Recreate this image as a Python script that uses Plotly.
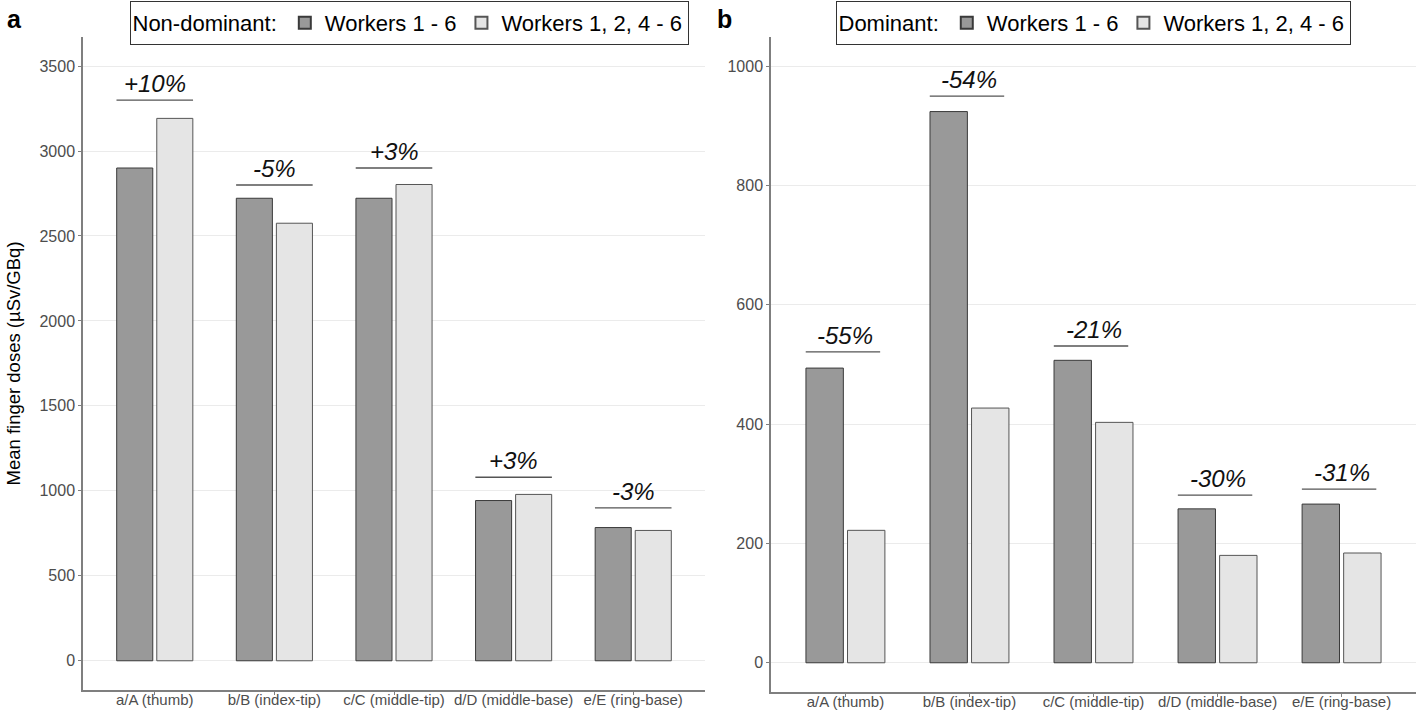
import plotly.graph_objects as go

categories = ["a/A (thumb)", "b/B (index-tip)", "c/C (middle-tip)", "d/D (middle-base)", "e/E (ring-base)"]
series_names = ["Workers 1 - 6", "Workers 1, 2, 4 - 6"]

nondom_all = [2900, 2722, 2722, 943, 784]
nondom_sub = [3192, 2575, 2803, 979, 767]
nondom_pct = ["+10%", "-5%", "+3%", "+3%", "-3%"]
nondom_bracket = [3300, 2800, 2900, 1080, 900]

dom_all = [494, 924, 507, 258, 266]
dom_sub = [222, 427, 403, 180, 184]
dom_pct = ["-55%", "-54%", "-21%", "-30%", "-31%"]
dom_bracket = [521, 950, 531, 281, 291]

FONT = "Liberation Sans, Arial, sans-serif"
DARK = "#999999"
LIGHT = "#E5E5E5"

W, H = 1416, 712
def px(x):
    return x / W
def py(y):
    return (H - y) / H

fig = go.Figure()

fig.add_trace(go.Bar(x=categories, y=nondom_all, name=series_names[0], marker=dict(color=DARK, line=dict(color="#3a3a3a", width=1)),
                     xaxis="x", yaxis="y", legend="legend", offsetgroup="1"))
fig.add_trace(go.Bar(x=categories, y=nondom_sub, name=series_names[1], marker=dict(color=LIGHT, line=dict(color="#555555", width=1)),
                     xaxis="x", yaxis="y", legend="legend", offsetgroup="2"))
fig.add_trace(go.Bar(x=categories, y=dom_all, name=series_names[0], marker=dict(color=DARK, line=dict(color="#3a3a3a", width=1)),
                     xaxis="x2", yaxis="y2", legend="legend2", offsetgroup="1"))
fig.add_trace(go.Bar(x=categories, y=dom_sub, name=series_names[1], marker=dict(color=LIGHT, line=dict(color="#555555", width=1)),
                     xaxis="x2", yaxis="y2", legend="legend2", offsetgroup="2"))

shapes = []
annotations = []
for xr, yr, brackets, pcts, lo, hi in [("x", "y", nondom_bracket, nondom_pct, -0.32, 0.32),
                                        ("x2", "y2", dom_bracket, dom_pct, -0.32, 0.28)]:
    for i, (b, p) in enumerate(zip(brackets, pcts)):
        shapes.append(dict(type="line", xref=xr, yref=yr, x0=i + lo, x1=i + hi, y0=b, y1=b,
                           line=dict(color="#555555", width=1.3)))
        annotations.append(dict(xref=xr, yref=yr, x=categories[i], y=b, text=p, showarrow=False,
                                yanchor="bottom", yshift=1,
                                font=dict(family=FONT, size=24, color="#111111", style="italic")))

annotations.append(dict(xref="paper", yref="paper", x=px(5), y=py(3), xanchor="left", yanchor="top",
                        text="<b>a</b>", showarrow=False, font=dict(family=FONT, size=25, color="#000000")))
annotations.append(dict(xref="paper", yref="paper", x=px(715), y=py(3), xanchor="left", yanchor="top",
                        text="<b>b</b>", showarrow=False, font=dict(family=FONT, size=25, color="#000000")))

axis_common = dict(showline=True, linecolor="#7f7f7f", linewidth=1.5, ticks="outside", ticklen=3,
                   tickcolor="#7f7f7f", zeroline=False, automargin=False)

legend_common = dict(orientation="h", xanchor="center", yanchor="top", y=py(1),
                     bgcolor="white", bordercolor="#333333", borderwidth=1,
                     font=dict(family=FONT, size=22, color="#000000"),
                     itemsizing="constant", traceorder="normal", tracegroupgap=0)

fig.update_layout(
    width=W, height=H,
    margin=dict(l=0, r=0, t=0, b=0, autoexpand=False),
    paper_bgcolor="white", plot_bgcolor="white",
    barmode="group", bargap=0.33, bargroupgap=0.1,
    font=dict(family=FONT),
    xaxis=dict(domain=[px(83), px(705)], anchor="y", showgrid=False, range=[-0.6, 4.6],
               tickfont=dict(family=FONT, size=15, color="#4d4d4d"), ticklabelstandoff=-8, **axis_common),
    yaxis=dict(domain=[py(690), py(37)], anchor="x", range=[-172, 3671],
               tickvals=[0, 500, 1000, 1500, 2000, 2500, 3000, 3500],
               tickfont=dict(family=FONT, size=16, color="#4d4d4d"),
               showgrid=True, gridcolor="#EBEBEB", gridwidth=1,
               title=dict(text="Mean finger doses (µSv/GBq)", font=dict(family=FONT, size=18.5, color="#000000"), standoff=14),
               **axis_common),
    xaxis2=dict(domain=[px(771), px(1416)], anchor="y2", showgrid=False, range=[-0.6, 4.6],
                tickfont=dict(family=FONT, size=15, color="#4d4d4d"), ticklabelstandoff=-8, **axis_common),
    yaxis2=dict(domain=[py(692), py(37)], anchor="x2", range=[-49, 1049],
                tickvals=[0, 200, 400, 600, 800, 1000],
                tickfont=dict(family=FONT, size=16, color="#4d4d4d"),
                showgrid=True, gridcolor="#EBEBEB", gridwidth=1, **axis_common),
    legend=dict(x=px(409), title=dict(text="Non-dominant:", side="left", font=dict(family=FONT, size=22)), **legend_common),
    legend2=dict(x=px(1093), title=dict(text="Dominant:", side="left", font=dict(family=FONT, size=22)), **legend_common),
    shapes=shapes,
    annotations=annotations,
    showlegend=True,
)

fig.write_html("out.html", config={"displayModeBar": False},
               post_script="document.body.style.margin='0';")
